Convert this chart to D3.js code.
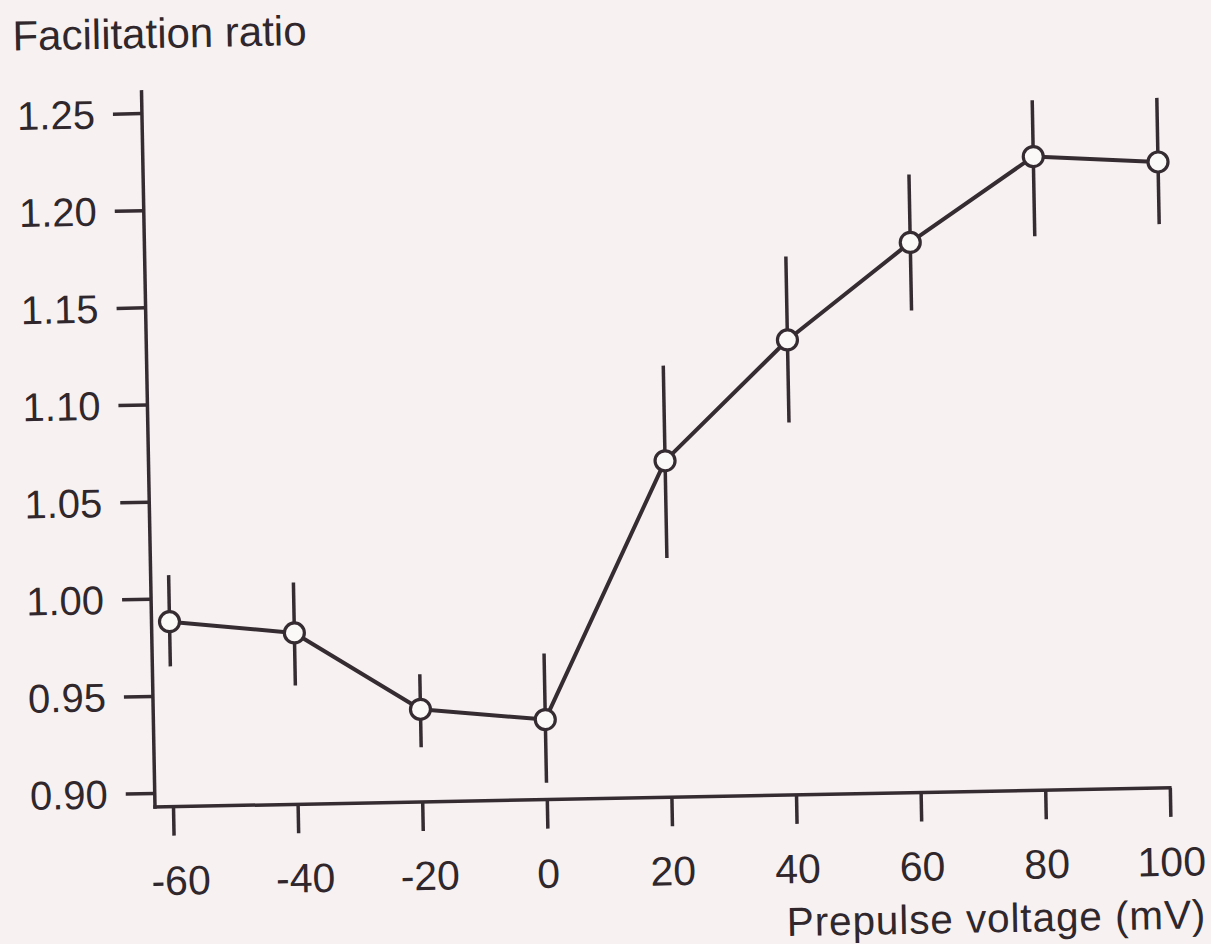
<!DOCTYPE html>
<html>
<head>
<meta charset="utf-8">
<script src="https://cdn.jsdelivr.net/npm/d3@7"></script>
<style>
  html, body { margin: 0; padding: 0; background: #f7f1f2; }
  svg { display: block; }
  text { font-family: "Liberation Sans", Arial, Helvetica, sans-serif; fill: #2f272b; }
</style>
</head>
<body>
<svg id="chart" width="1211" height="944"></svg>
<script>
// Prepulse voltages (mV) and mean facilitation ratio with error-bar limits
const voltages = [-60, -40, -20, 0, 20, 40, 60, 80, 100];
const ratio    = [0.988, 0.981, 0.9405, 0.934, 1.066, 1.127, 1.176, 1.219, 1.215];
const errHigh  = [1.012, 1.007, 0.9585, 0.968, 1.115, 1.170, 1.211, 1.248, 1.248];
const errLow   = [0.965, 0.954, 0.921, 0.9015, 1.016, 1.0845, 1.141, 1.178, 1.183];

const xTicks = [-60, -40, -20, 0, 20, 40, 60, 80, 100];
const yTicks = [0.90, 0.95, 1.00, 1.05, 1.10, 1.15, 1.20, 1.25];

const yTitle = "Facilitation ratio";
const xTitle = "Prepulse voltage (mV)";

const ink = "#352c31";
const paper = "#f7f1f2";

const svg = d3.select("#chart");
svg.append("rect").attr("width", 1211).attr("height", 944).attr("fill", paper);

// Axis corner and extents
const x0 = 155, yBase = 807;
const x = d3.scaleLinear().domain([-60, 100]).range([173, 1170]);
const y = d3.scaleLinear().domain([0.90, 1.25]).range([793, 113]);

// whole figure sits slightly tilted on the page
const g = svg.append("g").attr("transform", `rotate(-1.08, ${x0}, ${yBase})`);

// axis lines
g.append("line")
  .attr("x1", x0).attr("x2", x0)
  .attr("y1", yBase + 1.75).attr("y2", 90)
  .attr("stroke", ink).attr("stroke-width", 3.5);
g.append("line")
  .attr("x1", x0 - 1.75).attr("x2", x(100) + 1.75)
  .attr("y1", yBase).attr("y2", yBase)
  .attr("stroke", ink).attr("stroke-width", 3.5);

// y axis ticks and labels
const yAxis = d3.axisLeft(y)
  .tickValues(yTicks)
  .tickFormat(d3.format(".2f"))
  .tickSize(29)
  .tickPadding(18);
const gy = g.append("g").attr("transform", `translate(${x0},0)`).call(yAxis);
gy.select(".domain").remove();
gy.selectAll(".tick line").attr("stroke", ink).attr("stroke-width", 3.5);
gy.selectAll(".tick text")
  .attr("font-size", 40)
  .attr("fill", "#2f272b")
  .attr("dy", "0.35em");

// x axis ticks and labels (plain hyphen for negatives)
const xAxis = d3.axisBottom(x)
  .tickValues(xTicks)
  .tickFormat(d => String(d))
  .tickSize(29)
  .tickPadding(30);
const gx = g.append("g").attr("transform", `translate(0,${yBase})`).call(xAxis);
gx.select(".domain").remove();
gx.selectAll(".tick line").attr("stroke", ink).attr("stroke-width", 3.5);
gx.selectAll(".tick text")
  .attr("font-size", 41)
  .attr("fill", "#2f272b");
gx.selectAll(".tick")
  .filter(d => d < 0)
  .select("text")
  .attr("dx", "0.15em");

// titles
g.append("text")
  .attr("x", 27).attr("y", 48)
  .attr("font-size", 42)
  .text(yTitle);
g.append("text")
  .attr("x", 1204).attr("y", 948)
  .attr("text-anchor", "end")
  .attr("font-size", 40.5)
  .attr("letter-spacing", 0.9)
  .text(xTitle);

const pts = voltages.map((v, i) => ({ v, r: ratio[i], hi: errHigh[i], lo: errLow[i] }));

// error bars
g.append("g").selectAll("line")
  .data(pts)
  .join("line")
  .attr("x1", d => x(d.v)).attr("x2", d => x(d.v))
  .attr("y1", d => y(d.hi)).attr("y2", d => y(d.lo))
  .attr("stroke", ink).attr("stroke-width", 3.5);

// connecting line
g.append("path")
  .datum(pts)
  .attr("fill", "none")
  .attr("stroke", ink)
  .attr("stroke-width", 4)
  .attr("stroke-linejoin", "round")
  .attr("d", d3.line().x(d => x(d.v)).y(d => y(d.r)));

// open circle markers
g.append("g").selectAll("circle")
  .data(pts)
  .join("circle")
  .attr("cx", d => x(d.v)).attr("cy", d => y(d.r))
  .attr("r", 10)
  .attr("fill", "#fbf8f8")
  .attr("stroke", ink)
  .attr("stroke-width", 3.2);
</script>
</body>
</html>
